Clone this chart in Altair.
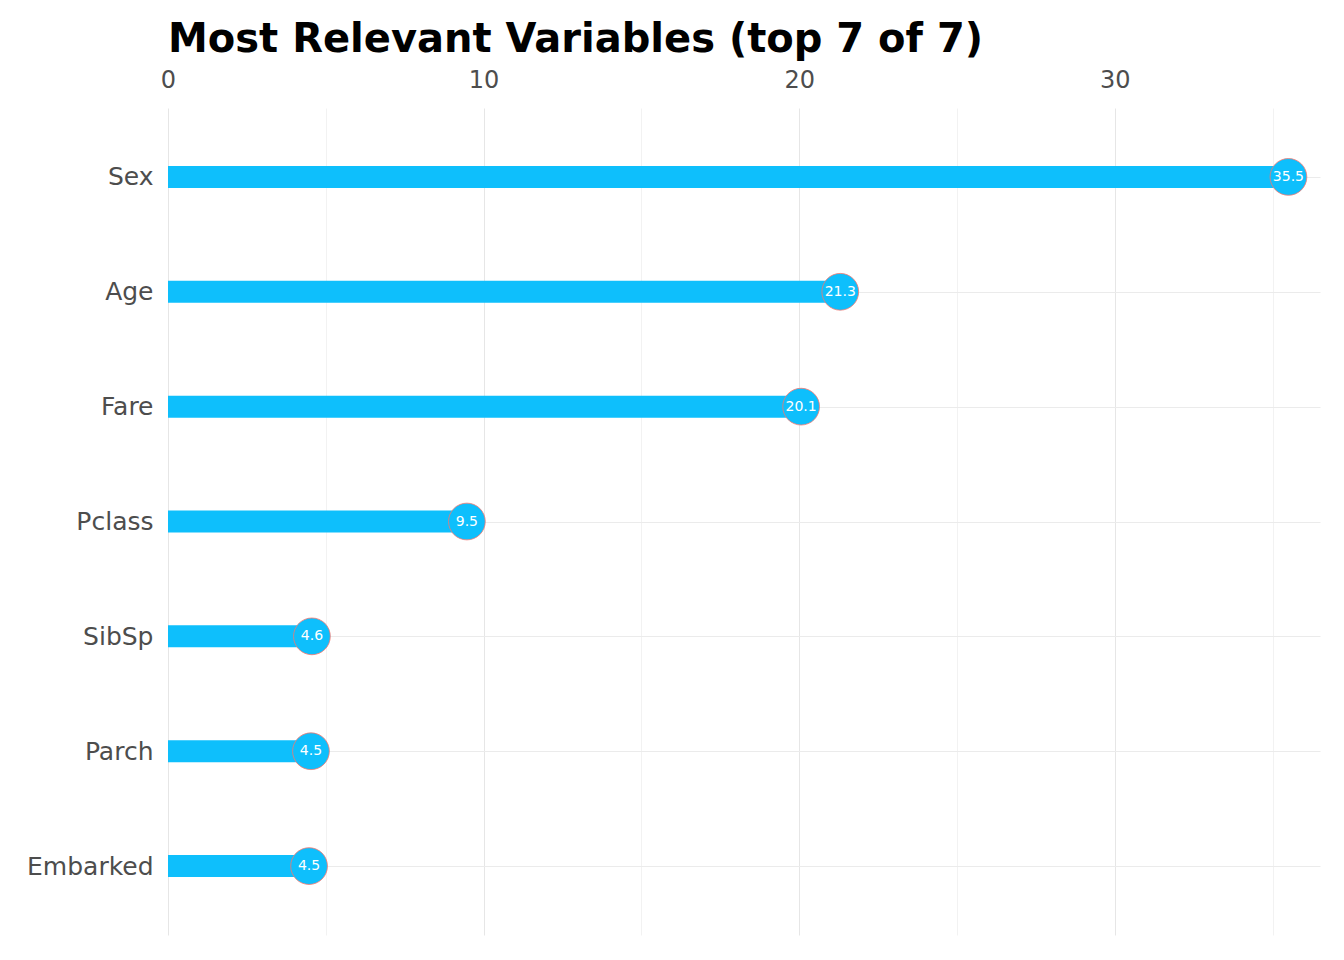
import altair as alt
import pandas as pd

variables = ["Sex", "Age", "Fare", "Pclass", "SibSp", "Parch", "Embarked"]
importance = [35.5, 21.3, 20.06, 9.47, 4.56, 4.53, 4.47]

df = pd.DataFrame({"variable": variables, "importance": importance})

BLUE = "#0ebffc"
FONT = "DejaVu Sans"

x_enc = alt.X(
    "importance:Q",
    scale=alt.Scale(domain=[0, 36.5], nice=False, zero=True),
    axis=alt.Axis(
        orient="top",
        values=[0, 5, 10, 15, 20, 25, 30, 35],
        labelExpr="datum.value % 10 === 0 ? datum.label : ''",
        labelFlush=False,
        title=None,
        domain=False,
        ticks=False,
        grid=True,
        gridColor={"condition": {"test": "datum.value % 10 === 0", "value": "#E6E6E6"}, "value": "#F2F2F2"},
        gridWidth=1,
        labelFontSize=24,
        labelColor="#4D4D4D",
        labelFont=FONT,
        labelPadding=16,
    ),
)
y_enc = alt.Y(
    "variable:N",
    sort=variables,
    scale=alt.Scale(type="point", padding=0.6),
    axis=alt.Axis(
        title=None,
        domain=False,
        ticks=False,
        grid=True,
        gridColor="#EBEBEB",
        gridWidth=1,
        labelFontSize=25,
        labelColor="#4D4D4D",
        labelFont=FONT,
        labelPadding=15,
    ),
)

base = alt.Chart(df).encode(x=x_enc, y=y_enc)

bars = base.mark_bar(size=22, color=BLUE)
dots = base.mark_circle(size=1350, color=BLUE, opacity=1, stroke="#F8766D", strokeWidth=0.8)
labels = base.mark_text(color="white", fontSize=14, font=FONT).encode(
    text=alt.Text("importance:Q", format=".1f")
)

chart = (
    alt.layer(bars, dots, labels)
    .properties(
        width=1152,
        height=827,
        padding={"left": 18, "top": 12, "right": 16, "bottom": 10},
        title=alt.TitleParams(
            "Most Relevant Variables (top 7 of 7)",
            anchor="start",
            frame="group",
            fontSize=40,
            fontWeight="bold",
            font=FONT,
            color="black",
            offset=8,
        ),
    )
    .configure_view(stroke=None)
)

chart.save("out.html", embed_options={"renderer": "svg", "actions": False})
